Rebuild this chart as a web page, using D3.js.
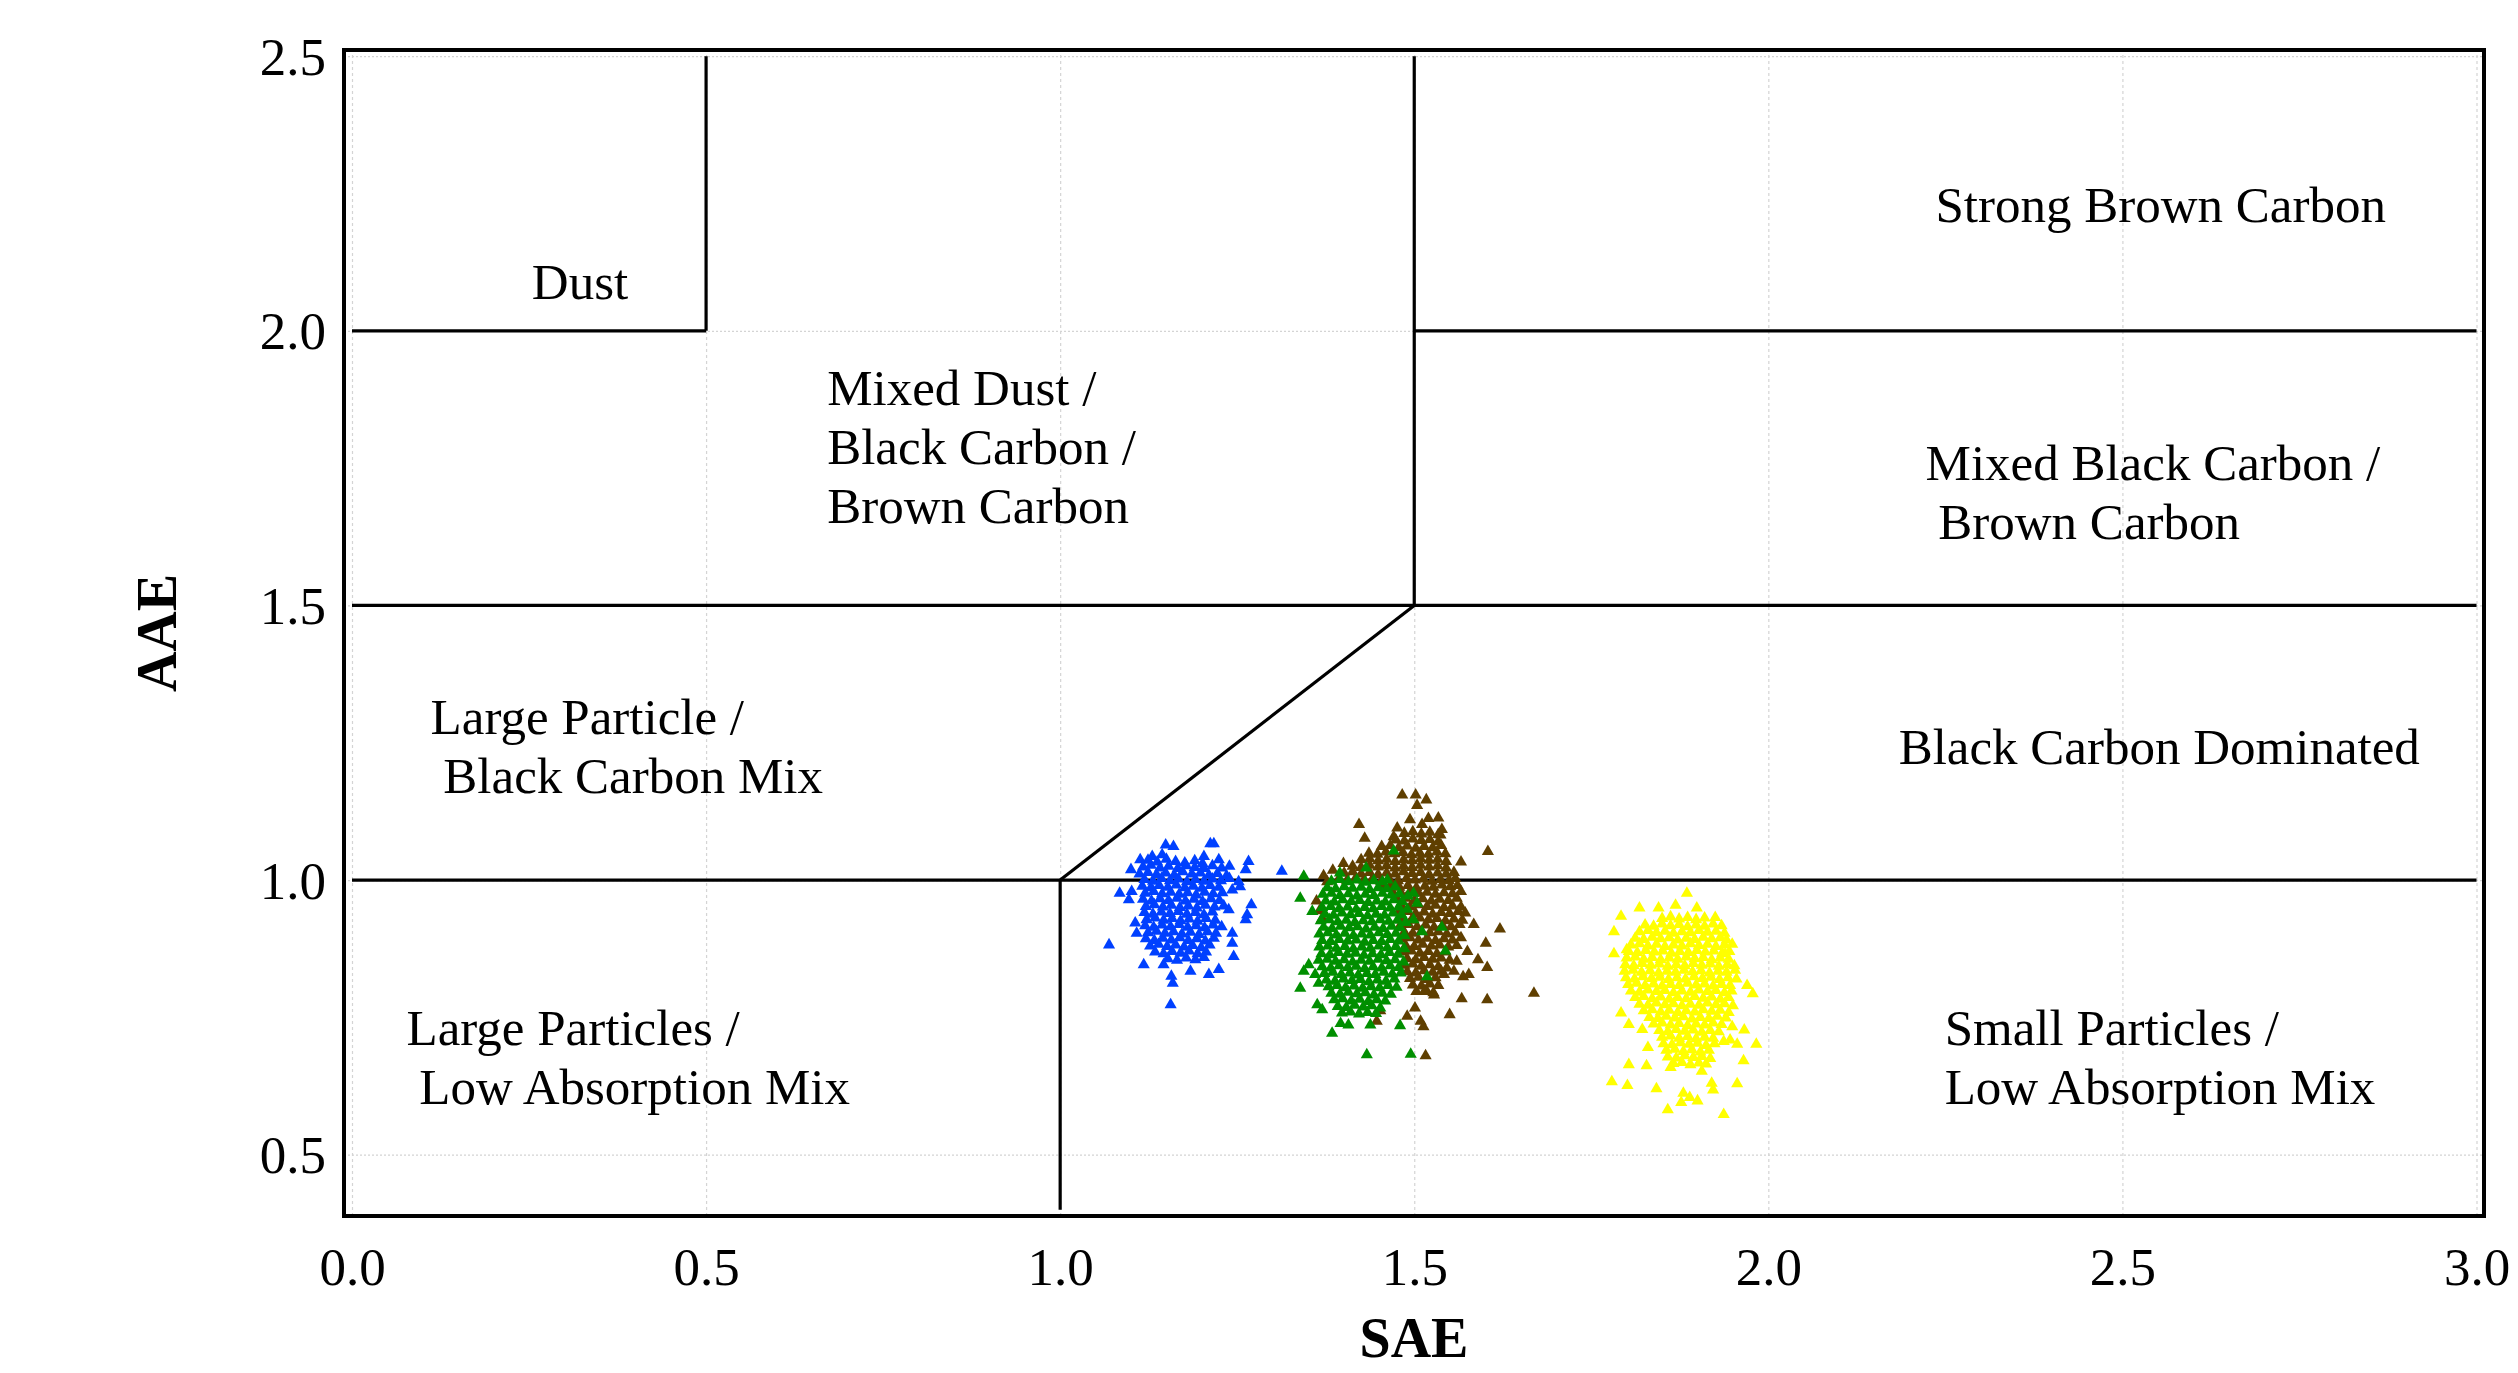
<!DOCTYPE html>
<html>
<head>
<meta charset="utf-8">
<script src="https://cdn.jsdelivr.net/npm/d3@7"></script>
<style>
  body { margin: 0; background: #ffffff; }
  svg text { font-family: "Liberation Serif", "Times New Roman", serif; fill: #000; }
</style>
</head>
<body>
<div id="chart"></div>
<script>
// Axis ticks
const saeTicks = [0, 0.5, 1.0, 1.5, 2.0, 2.5, 3.0];
const aaeTicks = [0.5, 1.0, 1.5, 2.0, 2.5];

// Classification boundaries, each segment [[SAE, AAE], [SAE, AAE]]
const boundaries = [
  [[0, 2.0], [0.5, 2.0]],
  [[0.5, 2.0], [0.5, 2.5]],
  [[1.5, 1.5], [1.5, 2.5]],
  [[1.5, 2.0], [3.0, 2.0]],
  [[0, 1.5], [3.0, 1.5]],
  [[1.0, 1.0], [1.5, 1.5]],
  [[0, 1.0], [3.0, 1.0]],
  [[1.0, 1.0], [1.0, 0.4]]
];

// Region names (one entry per label, lines of text)
const regionNames = [
  ['Dust'],
  ['Mixed Dust /', 'Black Carbon /', 'Brown Carbon'],
  ['Strong Brown Carbon'],
  ['Mixed Black Carbon /', ' Brown Carbon'],
  ['Large Particle /', ' Black Carbon Mix'],
  ['Black Carbon Dominated'],
  ['Large Particles /', ' Low Absorption Mix'],
  ['Small Particles /', 'Low Absorption Mix']
];
// where each region name starts, in SAE / AAE units (first line baseline)
const regionAnchors = [
  [0.254, 2.058], [0.671, 1.865], [2.236, 2.199], [2.222, 1.728],
  [0.111, 1.266], [2.184, 1.211], [0.077, 0.699], [2.249, 0.699]
];

// Data points [SAE, AAE]
const bluePoints = [
  [1.149,1.064],[1.160,1.061],[1.212,1.066],[1.217,1.066],[1.113,1.037],[1.130,1.043],[1.144,1.046],[1.100,1.019],
  [1.203,1.043],[1.224,1.037],[1.239,1.025],[1.266,1.034],[1.262,1.019],[1.313,1.016],[1.084,0.976],[1.097,0.964],
  [1.101,0.979],[1.106,0.922],[1.108,0.903],[1.069,0.882],[1.118,0.846],[1.146,0.846],[1.157,0.825],[1.159,0.812],
  [1.156,0.773],[1.184,0.834],[1.210,0.828],[1.224,0.837],[1.245,0.861],[1.243,0.885],[1.243,0.903],[1.262,0.928],
  [1.264,0.937],[1.270,0.955],[1.238,0.946],[1.254,0.988],[1.252,0.997],[1.243,0.982],
  [1.124,1.036],[1.137,1.033],[1.150,1.038],[1.163,1.034],[1.176,1.031],[1.190,1.035],[1.201,1.030],
  [1.117,1.024],[1.128,1.027],[1.141,1.022],[1.153,1.025],[1.166,1.021],[1.178,1.026],[1.190,1.023],[1.203,1.021],[1.215,1.026],[1.228,1.022],
  [1.112,1.011],[1.124,1.014],[1.136,1.010],[1.149,1.013],[1.161,1.009],[1.173,1.015],[1.186,1.011],[1.198,1.013],[1.210,1.009],[1.222,1.012],[1.235,1.008],
  [1.119,1.001],[1.131,0.998],[1.143,1.003],[1.155,0.999],[1.167,1.002],[1.179,0.997],[1.191,1.001],[1.203,0.998],[1.215,1.002],[1.227,0.999],[1.239,1.003],
  [1.116,0.989],[1.128,0.986],[1.140,0.990],[1.152,0.987],[1.164,0.991],[1.176,0.986],[1.188,0.989],[1.200,0.985],[1.212,0.990],[1.224,0.987],
  [1.120,0.976],[1.132,0.979],[1.144,0.975],[1.156,0.978],[1.168,0.974],[1.180,0.977],[1.192,0.973],[1.204,0.978],[1.216,0.975],[1.229,0.977],
  [1.117,0.965],[1.129,0.962],[1.141,0.966],[1.153,0.963],[1.165,0.967],[1.177,0.962],[1.189,0.965],[1.201,0.961],[1.213,0.966],[1.225,0.963],
  [1.121,0.952],[1.133,0.955],[1.145,0.951],[1.157,0.954],[1.169,0.950],[1.181,0.953],[1.193,0.949],[1.205,0.954],[1.218,0.951],[1.231,0.953],
  [1.119,0.941],[1.131,0.938],[1.143,0.942],[1.155,0.939],[1.167,0.943],[1.179,0.938],[1.191,0.941],[1.203,0.937],[1.215,0.942],
  [1.122,0.928],[1.134,0.931],[1.146,0.927],[1.158,0.930],[1.170,0.926],[1.182,0.929],[1.194,0.925],[1.206,0.930],[1.219,0.927],
  [1.120,0.917],[1.132,0.914],[1.144,0.918],[1.156,0.915],[1.168,0.919],[1.180,0.914],[1.192,0.917],[1.204,0.913],[1.216,0.918],[1.228,0.915],
  [1.124,0.904],[1.136,0.907],[1.148,0.903],[1.160,0.906],[1.172,0.902],[1.184,0.905],[1.196,0.901],[1.208,0.906],[1.220,0.903],
  [1.121,0.893],[1.133,0.890],[1.145,0.894],[1.157,0.891],[1.169,0.895],[1.181,0.890],[1.193,0.893],[1.205,0.889],[1.217,0.894],
  [1.127,0.880],[1.139,0.883],[1.151,0.879],[1.163,0.882],[1.175,0.878],[1.187,0.881],[1.199,0.877],[1.211,0.882],
  [1.134,0.869],[1.146,0.866],[1.158,0.870],[1.170,0.867],[1.182,0.871],[1.194,0.866],[1.206,0.869],
  [1.152,0.857],[1.165,0.854],[1.178,0.858],[1.191,0.855],[1.203,0.859]
];

const brownPoints = [
  [1.483,1.155],[1.502,1.155],[1.517,1.146],[1.504,1.136],[1.422,1.101],[1.430,1.076],[1.494,1.110],[1.520,1.112],
  [1.534,1.113],[1.539,1.092],[1.537,1.082],[1.476,1.095],[1.471,1.079],[1.511,1.101],[1.604,1.052],[1.566,1.033],
  [1.584,0.919],[1.621,0.911],[1.601,0.885],[1.590,0.855],[1.603,0.841],[1.577,0.828],[1.569,0.824],[1.669,0.794],
  [1.603,0.782],[1.567,0.784],[1.550,0.755],[1.513,0.733],[1.509,0.743],[1.490,0.752],[1.501,0.767],[1.516,0.680],
  [1.528,0.791],[1.518,0.797],[1.447,0.743],[1.452,0.762],[1.575,0.870],[1.560,0.852],[1.556,0.834],[1.542,0.828],[1.546,0.840],
  [1.362,0.962],[1.366,0.944],[1.370,0.930],[1.377,0.997],[1.385,1.018],[1.400,1.030],[1.372,1.008],
  [1.486,1.085],[1.498,1.088],[1.510,1.084],[1.522,1.087],[1.534,1.083],
  [1.474,1.073],[1.486,1.071],[1.498,1.075],[1.510,1.072],[1.522,1.074],[1.534,1.070],
  [1.454,1.061],[1.466,1.063],[1.478,1.059],[1.490,1.062],[1.502,1.058],[1.514,1.061],[1.526,1.059],[1.538,1.063],
  [1.436,1.049],[1.448,1.047],[1.460,1.051],[1.472,1.048],[1.484,1.050],[1.496,1.046],[1.508,1.049],[1.520,1.047],[1.532,1.051],[1.544,1.048],
  [1.425,1.037],[1.437,1.039],[1.449,1.035],[1.461,1.038],[1.473,1.034],[1.485,1.037],[1.497,1.035],[1.509,1.039],[1.521,1.036],[1.533,1.038],[1.545,1.034],
  [1.413,1.025],[1.425,1.023],[1.437,1.027],[1.449,1.024],[1.461,1.026],[1.473,1.022],[1.485,1.025],[1.497,1.023],[1.509,1.027],[1.521,1.024],[1.533,1.026],[1.545,1.022],
  [1.401,1.013],[1.413,1.015],[1.425,1.011],[1.437,1.014],[1.449,1.010],[1.461,1.013],[1.473,1.011],[1.485,1.015],[1.497,1.012],[1.509,1.014],[1.521,1.010],[1.533,1.013],[1.545,1.011],[1.556,1.014],
  [1.393,1.001],[1.405,0.999],[1.417,1.003],[1.429,1.000],[1.441,1.002],[1.453,0.998],[1.465,1.001],[1.477,0.999],[1.489,1.003],[1.501,1.000],[1.513,1.002],[1.525,0.998],[1.537,1.001],[1.549,0.999],[1.558,1.003],
  [1.455,0.989],[1.467,0.991],[1.479,0.987],[1.491,0.990],[1.503,0.986],[1.515,0.989],[1.527,0.987],[1.539,0.991],[1.551,0.988],[1.561,0.990],
  [1.470,0.977],[1.482,0.975],[1.494,0.979],[1.506,0.976],[1.518,0.978],[1.530,0.974],[1.542,0.977],[1.554,0.975],[1.566,0.979],
  [1.476,0.965],[1.488,0.967],[1.500,0.963],[1.512,0.966],[1.524,0.962],[1.536,0.965],[1.548,0.963],[1.560,0.967],
  [1.482,0.953],[1.494,0.951],[1.506,0.955],[1.518,0.952],[1.530,0.954],[1.542,0.950],[1.554,0.953],[1.566,0.951],
  [1.478,0.941],[1.490,0.943],[1.502,0.939],[1.514,0.942],[1.526,0.938],[1.538,0.941],[1.550,0.939],[1.562,0.943],[1.572,0.940],
  [1.484,0.929],[1.496,0.927],[1.508,0.931],[1.520,0.928],[1.532,0.930],[1.544,0.926],[1.556,0.929],[1.568,0.927],
  [1.480,0.917],[1.492,0.919],[1.504,0.915],[1.516,0.918],[1.528,0.914],[1.540,0.917],[1.552,0.915],[1.564,0.919],
  [1.486,0.905],[1.498,0.903],[1.510,0.907],[1.522,0.904],[1.534,0.906],[1.546,0.902],[1.558,0.905],
  [1.482,0.893],[1.494,0.895],[1.506,0.891],[1.518,0.894],[1.530,0.890],[1.542,0.893],[1.554,0.891],[1.566,0.895],
  [1.488,0.881],[1.500,0.879],[1.512,0.883],[1.524,0.880],[1.536,0.882],[1.548,0.878],[1.560,0.881],
  [1.484,0.869],[1.496,0.871],[1.508,0.867],[1.520,0.870],[1.532,0.866],[1.544,0.869],
  [1.490,0.857],[1.502,0.855],[1.514,0.859],[1.526,0.856],[1.538,0.858],[1.550,0.854],
  [1.486,0.845],[1.498,0.847],[1.510,0.843],[1.522,0.846],[1.534,0.842],
  [1.490,0.833],[1.502,0.831],[1.514,0.835],[1.526,0.832],[1.538,0.834],
  [1.494,0.821],[1.506,0.823],[1.518,0.819],[1.530,0.822],
  [1.498,0.809],[1.510,0.807],[1.522,0.811],[1.534,0.808],
  [1.503,0.797],[1.515,0.799],[1.527,0.795]
];

const greenPoints = [
  [1.344,1.007],[1.339,0.967],[1.356,0.943],[1.339,0.803],[1.344,0.834],[1.351,0.846],[1.360,0.828],[1.365,0.812],
  [1.363,0.773],[1.370,0.764],[1.384,0.721],[1.396,0.739],[1.407,0.736],[1.433,0.682],[1.495,0.683],[1.480,0.735],
  [1.438,0.736],[1.471,1.053],[1.511,0.906],[1.539,0.914],[1.544,0.871],[1.518,0.824],[1.499,0.976],[1.504,0.958],
  [1.499,0.928],[1.395,1.013],[1.432,1.022],[1.462,1.000],
  [1.383,0.998],[1.395,1.001],[1.407,0.997],[1.419,1.000],[1.431,0.996],[1.443,0.999],[1.455,0.997],
  [1.377,0.986],[1.389,0.984],[1.401,0.988],[1.413,0.985],[1.425,0.987],[1.437,0.983],[1.449,0.986],[1.461,0.984],[1.473,0.988],
  [1.371,0.974],[1.383,0.976],[1.395,0.972],[1.407,0.975],[1.419,0.971],[1.431,0.974],[1.443,0.972],[1.455,0.976],[1.467,0.973],[1.479,0.975],[1.491,0.971],
  [1.375,0.962],[1.387,0.960],[1.399,0.964],[1.411,0.961],[1.423,0.963],[1.435,0.959],[1.447,0.962],[1.459,0.960],[1.471,0.964],[1.483,0.961],
  [1.370,0.950],[1.382,0.952],[1.394,0.948],[1.406,0.951],[1.418,0.947],[1.430,0.950],[1.442,0.948],[1.454,0.952],[1.466,0.949],[1.478,0.951],[1.490,0.947],
  [1.374,0.938],[1.386,0.936],[1.398,0.940],[1.410,0.937],[1.422,0.939],[1.434,0.935],[1.446,0.938],[1.458,0.936],[1.470,0.940],[1.482,0.937],
  [1.368,0.926],[1.380,0.928],[1.392,0.924],[1.404,0.927],[1.416,0.923],[1.428,0.926],[1.440,0.924],[1.452,0.928],[1.464,0.925],[1.476,0.927],[1.488,0.923],
  [1.372,0.914],[1.384,0.912],[1.396,0.916],[1.408,0.913],[1.420,0.915],[1.432,0.911],[1.444,0.914],[1.456,0.912],[1.468,0.916],[1.480,0.913],
  [1.366,0.902],[1.378,0.904],[1.390,0.900],[1.402,0.903],[1.414,0.899],[1.426,0.902],[1.438,0.900],[1.450,0.904],[1.462,0.901],[1.474,0.903],[1.486,0.899],
  [1.370,0.890],[1.382,0.888],[1.394,0.892],[1.406,0.889],[1.418,0.891],[1.430,0.887],[1.442,0.890],[1.454,0.888],[1.466,0.892],[1.478,0.889],
  [1.366,0.878],[1.378,0.880],[1.390,0.876],[1.402,0.879],[1.414,0.875],[1.426,0.878],[1.438,0.876],[1.450,0.880],[1.462,0.877],[1.474,0.879],[1.486,0.875],
  [1.369,0.866],[1.381,0.864],[1.393,0.868],[1.405,0.865],[1.417,0.867],[1.429,0.863],[1.441,0.866],[1.453,0.864],[1.465,0.868],[1.477,0.865],
  [1.365,0.854],[1.377,0.856],[1.389,0.852],[1.401,0.855],[1.413,0.851],[1.425,0.854],[1.437,0.852],[1.449,0.856],[1.461,0.853],[1.473,0.855],[1.485,0.851],
  [1.370,0.842],[1.382,0.840],[1.394,0.844],[1.406,0.841],[1.418,0.843],[1.430,0.839],[1.442,0.842],[1.454,0.840],[1.466,0.844],[1.478,0.841],
  [1.373,0.830],[1.385,0.832],[1.397,0.828],[1.409,0.831],[1.421,0.827],[1.433,0.830],[1.445,0.828],[1.457,0.832],[1.469,0.829],[1.481,0.831],
  [1.376,0.818],[1.388,0.816],[1.400,0.820],[1.412,0.817],[1.424,0.819],[1.436,0.815],[1.448,0.818],[1.460,0.816],[1.472,0.820],
  [1.379,0.806],[1.391,0.808],[1.403,0.804],[1.415,0.807],[1.427,0.803],[1.439,0.806],[1.451,0.804],[1.463,0.808],[1.475,0.805],
  [1.383,0.794],[1.395,0.792],[1.407,0.796],[1.419,0.793],[1.431,0.795],[1.443,0.791],[1.455,0.794],[1.467,0.792],
  [1.387,0.782],[1.399,0.784],[1.411,0.780],[1.423,0.783],[1.435,0.779],[1.447,0.782],[1.459,0.780],
  [1.392,0.770],[1.404,0.768],[1.416,0.772],[1.428,0.769],[1.440,0.771],[1.452,0.767],
  [1.398,0.758],[1.410,0.760],[1.422,0.756],[1.434,0.759],[1.446,0.757]
];

const yellowPoints = [
  [1.885,0.976],[1.818,0.949],[1.845,0.949],[1.869,0.954],[1.792,0.934],[1.782,0.906],[1.782,0.866],[1.800,0.873],
  [1.899,0.949],[1.925,0.932],[1.949,0.883],[1.939,0.866],[1.970,0.808],[1.978,0.793],[1.966,0.727],[1.983,0.701],
  [1.956,0.701],[1.965,0.671],[1.956,0.629],[1.937,0.573],[1.920,0.630],[1.922,0.618],[1.900,0.598],[1.889,0.604],
  [1.880,0.612],[1.877,0.595],[1.858,0.582],[1.842,0.620],[1.801,0.626],[1.779,0.633],[1.803,0.664],[1.828,0.662],
  [1.830,0.695],[1.792,0.758],[1.803,0.737],[1.822,0.728],[1.906,0.652],[1.862,0.659],[1.937,0.706],[1.946,0.709],[1.949,0.733],
  [1.850,0.930],[1.862,0.933],[1.874,0.929],[1.886,0.932],[1.898,0.928],[1.910,0.931],
  [1.826,0.918],[1.838,0.916],[1.850,0.920],[1.862,0.917],[1.874,0.919],[1.886,0.915],[1.898,0.918],[1.910,0.916],[1.922,0.920],[1.934,0.917],
  [1.818,0.906],[1.830,0.908],[1.842,0.904],[1.854,0.907],[1.866,0.903],[1.878,0.906],[1.890,0.904],[1.902,0.908],[1.914,0.905],[1.926,0.907],[1.938,0.903],
  [1.812,0.894],[1.824,0.892],[1.836,0.896],[1.848,0.893],[1.860,0.895],[1.872,0.891],[1.884,0.894],[1.896,0.892],[1.908,0.896],[1.920,0.893],[1.932,0.895],[1.941,0.891],
  [1.806,0.882],[1.818,0.884],[1.830,0.880],[1.842,0.883],[1.854,0.879],[1.866,0.882],[1.878,0.880],[1.890,0.884],[1.902,0.881],[1.914,0.883],[1.926,0.879],[1.938,0.882],
  [1.803,0.870],[1.815,0.868],[1.827,0.872],[1.839,0.869],[1.851,0.871],[1.863,0.867],[1.875,0.870],[1.887,0.868],[1.899,0.872],[1.911,0.869],[1.923,0.871],[1.935,0.867],[1.945,0.870],
  [1.800,0.858],[1.812,0.860],[1.824,0.856],[1.836,0.859],[1.848,0.855],[1.860,0.858],[1.872,0.856],[1.884,0.860],[1.896,0.857],[1.908,0.859],[1.920,0.855],[1.932,0.858],[1.944,0.856],
  [1.798,0.846],[1.810,0.844],[1.822,0.848],[1.834,0.845],[1.846,0.847],[1.858,0.843],[1.870,0.846],[1.882,0.844],[1.894,0.848],[1.906,0.845],[1.918,0.847],[1.930,0.843],[1.942,0.846],[1.952,0.844],
  [1.797,0.834],[1.809,0.836],[1.821,0.832],[1.833,0.835],[1.845,0.831],[1.857,0.834],[1.869,0.832],[1.881,0.836],[1.893,0.833],[1.905,0.835],[1.917,0.831],[1.929,0.834],[1.941,0.832],[1.953,0.836],
  [1.799,0.822],[1.811,0.820],[1.823,0.824],[1.835,0.821],[1.847,0.823],[1.859,0.819],[1.871,0.822],[1.883,0.820],[1.895,0.824],[1.907,0.821],[1.919,0.823],[1.931,0.819],[1.943,0.822],[1.955,0.820],
  [1.802,0.810],[1.814,0.812],[1.826,0.808],[1.838,0.811],[1.850,0.807],[1.862,0.810],[1.874,0.808],[1.886,0.812],[1.898,0.809],[1.910,0.811],[1.922,0.807],[1.934,0.810],[1.946,0.808],
  [1.806,0.798],[1.818,0.796],[1.830,0.800],[1.842,0.797],[1.854,0.799],[1.866,0.795],[1.878,0.798],[1.890,0.796],[1.902,0.800],[1.914,0.797],[1.926,0.799],[1.938,0.795],[1.948,0.798],
  [1.812,0.786],[1.824,0.788],[1.836,0.784],[1.848,0.787],[1.860,0.783],[1.872,0.786],[1.884,0.784],[1.896,0.788],[1.908,0.785],[1.920,0.787],[1.932,0.783],[1.944,0.786],
  [1.818,0.774],[1.830,0.772],[1.842,0.776],[1.854,0.773],[1.866,0.775],[1.878,0.771],[1.890,0.774],[1.902,0.772],[1.914,0.776],[1.926,0.773],[1.938,0.775],[1.950,0.771],
  [1.824,0.762],[1.836,0.764],[1.848,0.760],[1.860,0.763],[1.872,0.759],[1.884,0.762],[1.896,0.760],[1.908,0.764],[1.920,0.761],[1.932,0.763],[1.944,0.759],
  [1.832,0.750],[1.844,0.748],[1.856,0.752],[1.868,0.749],[1.880,0.751],[1.892,0.747],[1.904,0.750],[1.916,0.748],[1.928,0.752],[1.940,0.749],
  [1.838,0.738],[1.850,0.740],[1.862,0.736],[1.874,0.739],[1.886,0.735],[1.898,0.738],[1.910,0.736],[1.922,0.740],[1.934,0.737],
  [1.846,0.726],[1.858,0.724],[1.870,0.728],[1.882,0.725],[1.894,0.727],[1.906,0.723],[1.918,0.726],[1.930,0.724],
  [1.850,0.714],[1.862,0.716],[1.874,0.712],[1.886,0.715],[1.898,0.711],[1.910,0.714],[1.922,0.712],
  [1.852,0.702],[1.864,0.700],[1.876,0.704],[1.888,0.701],[1.900,0.703],[1.912,0.699],[1.924,0.702],
  [1.856,0.690],[1.868,0.692],[1.880,0.688],[1.892,0.691],[1.904,0.687],[1.916,0.690],
  [1.858,0.678],[1.870,0.676],[1.882,0.680],[1.894,0.677],[1.906,0.679],[1.918,0.675],
  [1.866,0.666],[1.878,0.668],[1.890,0.664],[1.902,0.667],[1.912,0.665]
];

// series in drawing order, with marker colours
const series = [
  { points: bluePoints, color: '#0040ff' },
  { points: brownPoints, color: '#5f3f00' },
  { points: greenPoints, color: '#008f00' },
  { points: yellowPoints, color: '#ffff00' }
];

// Layout
const W = 2518, H = 1373;
const frame = { left: 344, right: 2484, top: 50, bottom: 1216 };

const svg = d3.select('#chart').append('svg')
  .attr('width', W)
  .attr('height', H)
  .attr('viewBox', `0 0 ${W} ${H}`);

const x = d3.scaleLinear().domain([0, 3]).range([352, 2476.5]);
const y = d3.scaleLinear().domain([0.5, 2.5]).range([1154.7, 56.2]);

// Dotted gridlines
svg.append('g')
  .attr('class', 'grid x-grid')
  .attr('transform', `translate(0,${frame.bottom})`)
  .call(d3.axisBottom(x).tickValues(saeTicks).tickSize(-(frame.bottom - frame.top)).tickFormat(''))
  .call(g => g.select('.domain').remove())
  .selectAll('line')
  .attr('stroke', '#d4d4d4')
  .attr('stroke-width', 1.2)
  .attr('stroke-dasharray', '3,3');

svg.append('g')
  .attr('class', 'grid y-grid')
  .attr('transform', `translate(${frame.left},0)`)
  .call(d3.axisLeft(y).tickValues(aaeTicks).tickSize(-(frame.right - frame.left)).tickFormat(''))
  .call(g => g.select('.domain').remove())
  .selectAll('line')
  .attr('stroke', '#d4d4d4')
  .attr('stroke-width', 1.2)
  .attr('stroke-dasharray', '2,2');

// Boundary lines between aerosol classes
svg.append('g')
  .selectAll('line')
  .data(boundaries)
  .enter()
  .append('line')
  .attr('x1', d => x(d[0][0]))
  .attr('y1', d => y(d[0][1]))
  .attr('x2', d => x(d[1][0]))
  .attr('y2', d => y(d[1][1]))
  .attr('stroke', '#000')
  .attr('stroke-width', 3.2);

// Points (triangles)
const tri = d3.symbol().type(d3.symbolTriangle).size(64);
series.forEach(s => {
  svg.append('g')
    .selectAll('path')
    .data(s.points)
    .enter()
    .append('path')
    .attr('d', tri)
    .attr('transform', d => `translate(${x(d[0])},${y(d[1])})`)
    .attr('fill', s.color);
});

// Frame
svg.append('rect')
  .attr('x', frame.left)
  .attr('y', frame.top)
  .attr('width', frame.right - frame.left)
  .attr('height', frame.bottom - frame.top)
  .attr('fill', 'none')
  .attr('stroke', '#000')
  .attr('stroke-width', 4);

// Tick labels (no tick marks, just text)
const xAxis = svg.append('g')
  .attr('class', 'axis x-axis')
  .attr('transform', `translate(0,${frame.bottom})`)
  .call(d3.axisBottom(x).tickValues(saeTicks).tickSize(0).tickPadding(0).tickFormat(d3.format('.1f')));
xAxis.select('.domain').remove();
xAxis.selectAll('text')
  .attr('y', 69)
  .attr('dy', null)
  .attr('font-size', 53)
  .style('font-family', '"Liberation Serif", "Times New Roman", serif');

const yAxis = svg.append('g')
  .attr('class', 'axis y-axis')
  .attr('transform', `translate(${frame.left},0)`)
  .call(d3.axisLeft(y).tickValues(aaeTicks).tickSize(0).tickPadding(0).tickFormat(d3.format('.1f')));
yAxis.select('.domain').remove();
yAxis.selectAll('text')
  .attr('x', -18)
  .attr('dy', '0.34em')
  .attr('font-size', 53)
  .style('font-family', '"Liberation Serif", "Times New Roman", serif');

// Axis titles
svg.append('text')
  .attr('x', (frame.left + frame.right) / 2)
  .attr('y', 1357)
  .attr('text-anchor', 'middle')
  .attr('font-size', 56)
  .attr('font-weight', 'bold')
  .text('SAE');

svg.append('text')
  .attr('transform', `translate(176,${(frame.top + frame.bottom) / 2}) rotate(-90)`)
  .attr('text-anchor', 'middle')
  .attr('font-size', 56)
  .attr('font-weight', 'bold')
  .text('AAE');

// Region names
const lineGap = 59;
regionNames.forEach((lines, i) => {
  const t = svg.append('text')
    .attr('x', x(regionAnchors[i][0]))
    .attr('y', y(regionAnchors[i][1]))
    .attr('font-size', 51)
    .style('white-space', 'pre');
  lines.forEach((line, j) => {
    t.append('tspan')
      .attr('x', x(regionAnchors[i][0]))
      .attr('y', y(regionAnchors[i][1]) + j * lineGap)
      .text(line);
  });
});
</script>
</body>
</html>
